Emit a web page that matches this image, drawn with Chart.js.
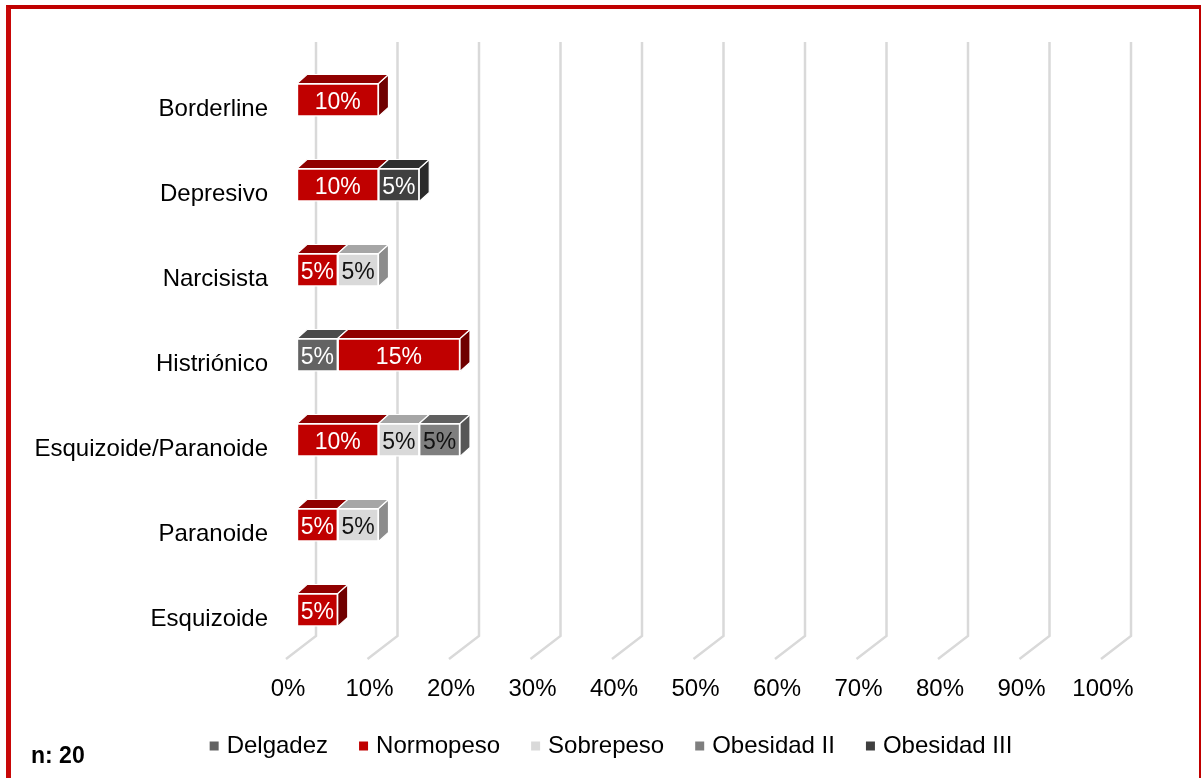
<!DOCTYPE html>
<html><head><meta charset="utf-8">
<script src="https://cdn.jsdelivr.net/npm/chart.js@4"></script>
<style>
html,body{margin:0;padding:0;background:#fff;overflow:hidden}
#wrap{position:relative;width:1201px;height:778px;overflow:hidden}
#frame{position:absolute;left:6px;top:5px;width:1195px;height:780px;border-left:5px solid #c80808;border-top:4px solid #c00000;border-right:2px solid #c00000;box-sizing:border-box;pointer-events:none}
canvas{position:absolute;left:0;top:0}
</style></head><body>
<div id="wrap"><canvas id="c" width="1201" height="778"></canvas><div id="frame"></div></div>
<script>
const categories = ['Borderline','Depresivo','Narcisista','Histriónico','Esquizoide/Paranoide','Paranoide','Esquizoide'];
const delgadez   = [0,0,0,5,0,0,0];
const normopeso  = [10,10,5,15,10,5,5];
const sobrepeso  = [0,0,5,0,5,5,0];
const obesidadII = [0,0,0,0,5,0,0];
const obesidadIII= [0,5,0,0,0,0,0];
const FONT = '"Liberation Sans", Arial, sans-serif';
const styles = [
 {front:'#636363',top:'#4a4a4a',side:'#454545',text:'#ffffff'},
 {front:'#c00000',top:'#900000',side:'#700000',text:'#ffffff'},
 {front:'#d9d9d9',top:'#a6a6a6',side:'#8c8c8c',text:'#111111'},
 {front:'#7f7f7f',top:'#5f5f5f',side:'#565656',text:'#111111'},
 {front:'#404040',top:'#2e2e2e',side:'#2a2a2a',text:'#ffffff'}
];
const names = ['Delgadez','Normopeso','Sobrepeso','Obesidad II','Obesidad III'];
const series = [delgadez,normopeso,sobrepeso,obesidadII,obesidadIII];
const DX=10, DY=9;
const plugin3d = {
  id:'plugin3d',
  afterLayout(chart){
    const l=chart.legend; if(!l) return;
    l.left+=57; l.right+=57; l.top-=10; l.bottom-=10;
  },
  beforeDatasetsDraw(chart){
    const ctx=chart.ctx, xs=chart.scales.x;
    ctx.save();
    ctx.strokeStyle='#d9d9d9'; ctx.lineWidth=2.5; ctx.lineJoin='miter';
    xs.ticks.forEach(t=>{
      const x=xs.getPixelForValue(t.value);
      ctx.beginPath(); ctx.moveTo(x+19,42); ctx.lineTo(x+19,636); ctx.lineTo(x-11,659); ctx.stroke();
    });
    ctx.lineWidth=1.2; ctx.strokeStyle='#ffffff';
    const poly=(pts,fill)=>{ctx.beginPath();pts.forEach((p,i)=>i?ctx.lineTo(p[0],p[1]):ctx.moveTo(p[0],p[1]));ctx.closePath();ctx.fillStyle=fill;ctx.fill();ctx.stroke();};
    chart.data.datasets.forEach((ds,i)=>{
      const meta=chart.getDatasetMeta(i);
      meta.data.forEach((el,j)=>{
        if(!ds.data[j]) return;
        const x0=el.base,x1=el.x,t=el.y-el.height/2,b=el.y+el.height/2;
        poly([[x1,t],[x1+DX,t-DY],[x1+DX,b-DY],[x1,b]],styles[i].side);
        poly([[x0,t],[x0+DX,t-DY],[x1+DX,t-DY],[x1,t]],styles[i].top);
      });
    });
    ctx.restore();
  },
  afterDatasetsDraw(chart){
    const ctx=chart.ctx;
    ctx.save();
    ctx.font='23px '+FONT; ctx.textAlign='center'; ctx.textBaseline='middle';
    chart.data.datasets.forEach((ds,i)=>{
      chart.getDatasetMeta(i).data.forEach((el,j)=>{
        if(!ds.data[j]) return;
        ctx.fillStyle=styles[i].text;
        ctx.fillText(ds.data[j]+'%',(el.base+el.x)/2,el.y+3);
      });
    });
    ctx.font='bold 23px '+FONT; ctx.textAlign='left'; ctx.fillStyle='#000';
    ctx.fillText('n: 20',31,757);
    ctx.restore();
  }
};
new Chart(document.getElementById('c'),{
  type:'bar',
  data:{labels:categories,datasets:series.map((d,i)=>({
    label:names[i],data:d,backgroundColor:styles[i].front,borderColor:'#ffffff',borderWidth:1.5,borderSkipped:false,barThickness:33,stack:'a'
  }))},
  plugins:[plugin3d],
  options:{
    indexAxis:'y',responsive:false,animation:false,
    events:[],
    layout:{padding:{top:57.5,left:0,right:89,bottom:0}},
    plugins:{
      tooltip:{enabled:false},
      legend:{position:'bottom',labels:{usePointStyle:true,pointStyle:'rect',boxWidth:1,boxHeight:9,padding:35,color:'#000',font:{family:FONT,size:24},
        generateLabels(chart){
          return Chart.defaults.plugins.legend.labels.generateLabels(chart).map(it=>Object.assign(it,{lineWidth:0,strokeStyle:it.fillStyle}));
        }}}
    },
    scales:{
      x:{stacked:true,min:0,max:100,grid:{display:false,drawTicks:false},border:{display:false},
         ticks:{stepSize:10,callback:v=>v+'%',color:'#000',padding:22,labelOffset:-9,maxRotation:0,autoSkip:false,font:{family:FONT,size:24}},
         afterFit(s){s.height=56.5;}},
      y:{stacked:true,grid:{display:false,drawTicks:false},border:{display:false},
         ticks:{color:'#000',padding:29,labelOffset:9,font:{family:FONT,size:24}},
         afterFit(s){s.width=297;}}
    }
  }
});
</script></body></html>
